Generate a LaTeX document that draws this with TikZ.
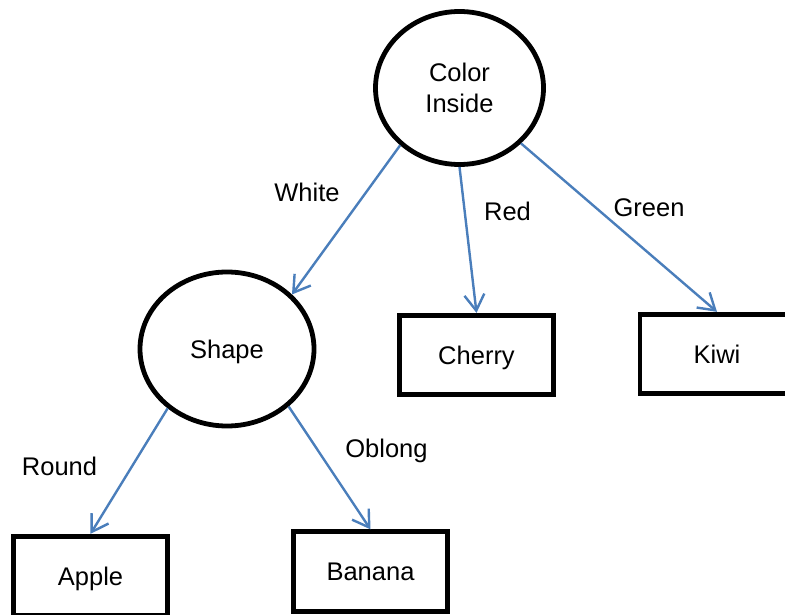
\documentclass[tikz,border=0pt]{standalone}
\usepackage{fontspec}
\setmainfont{Liberation Sans}
\usetikzlibrary{arrows.meta,shapes.geometric}
\definecolor{linkblue}{RGB}{74,126,187}
\begin{document}
\begin{tikzpicture}[x=1pt,y=-1pt,
  every node/.style={font=\fontsize{25.5}{31}\selectfont},
  oval/.style={ellipse,draw,line width=4.8pt,inner sep=0pt,align=center},
  leaf/.style={rectangle,draw,line width=4.8pt,minimum width=154pt,
    minimum height=79.5pt,inner sep=0pt,text height=18.3pt,text depth=0pt},
  branch/.style={draw=linkblue,line width=2.4pt,
    -{Straight Barb[length=16pt,width=20pt]}},
  tag/.style={anchor=base,inner sep=0pt}]
\useasboundingbox (0,0) rectangle (785,615);
\clip (0,0) rectangle (785,615);

% decision nodes
\node[oval,minimum width=168pt,minimum height=153pt] (ci) at (459.5,88) {Color\\Inside};
\node[oval,minimum width=174pt,minimum height=154pt,text height=18.3pt,text depth=0pt]
  (sh) at (227,349) {Shape};

% leaves
\node[leaf] (cherry) at (476.5,355) {Cherry};
\node[leaf] (kiwi)   at (717,354)   {Kiwi};
\node[leaf] (apple)  at (90.5,576)  {Apple};
\node[leaf] (banana) at (370.5,571.5) {Banana};

% branches
\draw[branch] (ci.-136.7) -- (sh.40.7);
\draw[branch] (ci.-90)    -- (cherry.north);
\draw[branch] (ci.-42.8)  -- (kiwi.north);
\draw[branch] (sh.-135.5) -- (apple.north);
\draw[branch] (sh.-43.6)  -- (banana.north);

% branch labels
\node[tag] (lwhite)  at (307,202)   {White};
\node[tag] (lred)    at (507.5,220) {Red};
\node[tag] (lgreen)  at (649,217)   {Green};
\node[tag] (lround)  at (59.5,475)  {Round};
\node[tag] (loblong) at (386.5,457) {Oblong};
\end{tikzpicture}
\end{document}
